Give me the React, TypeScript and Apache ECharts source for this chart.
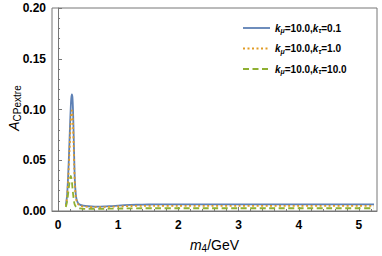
import React, { useEffect, useRef } from "react";
import * as echarts from "echarts";

const m4 = [0.13, 0.15, 0.17, 0.19, 0.2, 0.21, 0.22, 0.23, 0.24, 0.25, 0.26, 0.27, 0.28, 0.3, 0.33, 0.37, 0.42, 0.5, 0.6, 0.7, 0.8, 0.9, 1.0, 1.1, 1.2, 1.4, 1.6, 2.0, 2.5, 3.0, 3.5, 4.0, 4.5, 5.0, 5.25];
const acpBlue = [0.006, 0.015, 0.037, 0.068, 0.085, 0.1, 0.111, 0.115, 0.112, 0.098, 0.075, 0.05, 0.03, 0.014, 0.008, 0.006, 0.0052, 0.0047, 0.0044, 0.0044, 0.0046, 0.0049, 0.0053, 0.0057, 0.006, 0.0063, 0.0065, 0.0066, 0.0066, 0.0066, 0.0066, 0.0066, 0.0066, 0.0066, 0.0066];
const acpOrange = [0.005, 0.013, 0.032, 0.058, 0.073, 0.087, 0.096, 0.099, 0.096, 0.084, 0.064, 0.043, 0.026, 0.012, 0.007, 0.0052, 0.0045, 0.004, 0.0038, 0.0038, 0.004, 0.0042, 0.0045, 0.0047, 0.0049, 0.005, 0.0051, 0.0051, 0.0051, 0.0051, 0.0051, 0.0051, 0.0051, 0.0051, 0.0051];
const acpGreen = [0.004, 0.009, 0.018, 0.028, 0.032, 0.0345, 0.033, 0.029, 0.023, 0.017, 0.012, 0.008, 0.006, 0.004, 0.003, 0.0025, 0.0022, 0.002, 0.002, 0.0021, 0.0022, 0.0023, 0.0024, 0.0025, 0.0026, 0.0027, 0.0027, 0.0027, 0.0027, 0.0027, 0.0027, 0.0027, 0.0027, 0.0027, 0.0027];

const seriesNames = ["s1", "s2", "s3"];
const legendMu = ["10.0", "10.0", "10.0"];
const legendTau = ["0.1", "1.0", "10.0"];
const xMajor = [0, 1, 2, 3, 4, 5];
const xMinor = [0.2, 0.4, 0.6, 0.8, 1.2, 1.4, 1.6, 1.8, 2.2, 2.4, 2.6, 2.8, 3.2, 3.4, 3.6, 3.8, 4.2, 4.4, 4.6, 4.8, 5.2];

const FONT = "Liberation Sans";
const FRAME = "#777";

export default function App() {
  const ref = useRef<HTMLDivElement>(null);
  useEffect(() => {
    const chart = echarts.init(ref.current!, null, { renderer: "svg" });
    const pair = (ys: (number | null)[]) => m4.map((x, i) => [x, ys[i]]);
    const colors = ["#5E81B5", "#E19C24", "#8FB032"];
    const dashes: any[] = ["solid", [2, 2.5], [6, 3.5]];
    const allY = [acpBlue, acpOrange, acpGreen];
    const legendRows = [28, 48.5, 69];
    const legendGraphics: any[] = [];
    seriesNames.forEach((_, i) => {
      legendGraphics.push({
        type: "line",
        shape: { x1: 243, y1: legendRows[i], x2: 270, y2: legendRows[i] },
        style: { stroke: colors[i], lineWidth: 1.8, lineDash: dashes[i] === "solid" ? null : dashes[i] },
      });
      legendGraphics.push({
        type: "text",
        x: 275,
        y: legendRows[i],
        style: {
          text: `{k|k}{s|μ}{n|=${legendMu[i]},}{k|k}{s|τ}{n|=${legendTau[i]}}`,
          verticalAlign: "middle",
          align: "left",
          rich: {
            k: { fontFamily: FONT, fontStyle: "italic", fontWeight: "bold", fontSize: 10, fill: "#000" },
            s: { fontFamily: FONT, fontStyle: "italic", fontWeight: "bold", fontSize: 7, fill: "#000", padding: [5, 0, 0, 0] },
            n: { fontFamily: FONT, fontWeight: "bold", fontSize: 10, fill: "#000" },
          },
        },
      });
    });
    legendGraphics.push({
      type: "text",
      x: 14,
      y: 108,
      rotation: Math.PI / 2,
      style: {
        text: "{a|A}{s|CPextre}",
        align: "center",
        verticalAlign: "middle",
        rich: {
          a: { fontFamily: FONT, fontStyle: "italic", fontSize: 14, fill: "#000" },
          s: { fontFamily: FONT, fontSize: 10, fill: "#000", padding: [6, 0, 0, 0] },
        },
      },
    });
    chart.setOption({
      animation: false,
      grid: { left: 52, right: 5, top: 8, bottom: 45, show: true, borderColor: FRAME, borderWidth: 1, containLabel: false, outerBoundsMode: "none" },
      graphic: legendGraphics,
      xAxis: [
        {
          type: "value",
          min: -0.1,
          max: 5.3,
          name: "{m|m}{s|4}{n|/GeV}",
          nameLocation: "middle",
          nameGap: 26,
          nameTextStyle: {
            rich: {
              m: { fontFamily: FONT, fontStyle: "italic", fontSize: 14, color: "#000" },
              s: { fontFamily: FONT, fontSize: 10, color: "#000", padding: [6, 0, 0, 0] },
              n: { fontFamily: FONT, fontSize: 14, color: "#000" },
            },
          },
          axisLine: { show: true, lineStyle: { color: FRAME } },
          axisTick: { show: true, inside: true, length: 4, customValues: xMajor, lineStyle: { color: FRAME } },
          axisLabel: { customValues: xMajor, fontFamily: FONT, fontWeight: "bold", fontSize: 12, color: "#000", margin: 8 },
          splitLine: { show: false },
        },
        {
          type: "value",
          min: -0.1,
          max: 5.3,
          position: "bottom",
          axisLine: { show: false },
          axisTick: { show: true, inside: true, length: 2, customValues: xMinor, lineStyle: { color: FRAME } },
          axisLabel: { show: false },
          splitLine: { show: false },
        },
      ],
      yAxis: {
        type: "value",
        min: 0,
        max: 0.2,
        interval: 0.05,
        axisLine: { show: true, lineStyle: { color: FRAME } },
        axisTick: { show: true, inside: true, length: 4, lineStyle: { color: FRAME } },
        minorTick: { show: true, splitNumber: 5, length: 2, lineStyle: { color: FRAME } },
        axisLabel: { formatter: (v: number) => v.toFixed(2), fontFamily: FONT, fontWeight: "bold", fontSize: 12, color: "#000", margin: 6 },
        splitLine: { show: false },
        minorSplitLine: { show: false },
      },
      series: seriesNames.map((name, i) => ({
        name,
        type: "line",
        xAxisIndex: 0,
        data: pair(allY[i]),
        showSymbol: false,
        symbol: "none",
        smooth: 0.3,
        connectNulls: false,
        color: colors[i],
        lineStyle: { color: colors[i], width: 1.8, type: dashes[i] },
        z: 2 + i,
      })),
    });
    return () => chart.dispose();
  }, []);
  return <div ref={ref} style={{ position: "absolute", left: 0, top: 0, width: 382, height: 256 }} />;
}
